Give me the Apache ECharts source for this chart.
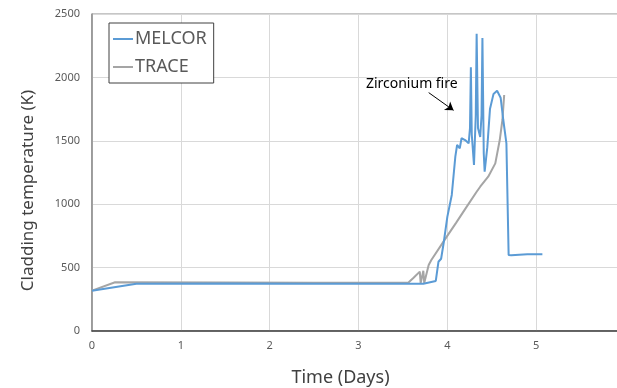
<!DOCTYPE html>
<html><head><meta charset="utf-8">
<script src="https://cdn.jsdelivr.net/npm/echarts@6/dist/echarts.min.js"></script>
<style>html,body{margin:0;padding:0;background:#fff}#c{width:617px;height:388px}</style>
</head><body><div id="c"></div>
<script>
const melcorTime = [0, 0.5, 1.5, 2.5, 3.5, 3.73, 3.87, 3.9, 3.93, 3.96, 4.0, 4.05, 4.09, 4.11, 4.14, 4.16, 4.2, 4.24, 4.255, 4.265, 4.275, 4.3, 4.32, 4.33, 4.345, 4.37, 4.385, 4.395, 4.41, 4.42, 4.45, 4.48, 4.52, 4.56, 4.6, 4.63, 4.665, 4.69, 4.72, 4.9, 5.07];
const melcorTemp = [318, 372, 374, 373, 372, 373, 395, 546, 570, 700, 900, 1073, 1375, 1467, 1441, 1520, 1506, 1480, 1600, 2080, 1550, 1310, 1700, 2345, 1600, 1530, 1700, 2310, 1400, 1256, 1450, 1750, 1870, 1895, 1840, 1664, 1480, 600, 597, 605, 605];
const traceTime = [0, 0.26, 1.5, 2.5, 3.56, 3.62, 3.69, 3.7, 3.73, 3.74, 3.79, 3.82, 3.99, 4.1, 4.2, 4.33, 4.37, 4.46, 4.54, 4.59, 4.62, 4.64];
const traceTemp = [318, 384, 383, 381, 380, 420, 468, 378, 475, 378, 520, 560, 740, 855, 961, 1098, 1138, 1217, 1322, 1506, 1664, 1861];
const seriesNames = ['MELCOR', 'TRACE'];
const annotText = 'Zirconium fire';
const annotTextAt = [3.6, 1945];
const annotArrowFrom = [3.79, 1880];
const annotArrowTo = [4.07, 1740];

const zip = (a, b) => a.map((v, i) => [v, b[i]]);
const chart = echarts.init(document.getElementById('c'), null, {renderer: 'canvas'});
const fam = '"Noto Sans", "Open Sans", sans-serif';
chart.setOption({
  animation: false,
  backgroundColor: '#fff',
  grid: {left: 92, right: -8, top: 14, bottom: 57, outerBoundsMode: 'none', containLabel: false,
    show: true, borderColor: '#8c8c8c', borderWidth: 1},
  legend: {
    orient: 'vertical', left: 109, top: 23,
    data: seriesNames,
    borderColor: '#404040', borderWidth: 1, backgroundColor: '#fff',
    padding: [7, 7, 7, 4], itemGap: 10,
    icon: 'rect', itemWidth: 20, itemHeight: 2,
    textStyle: {fontFamily: fam, fontSize: 18, color: '#595959', padding: [0, 0, 0, -3]}
  },
  xAxis: {
    type: 'value', min: 0, max: 6, interval: 1,
    name: 'Time (Days)', nameLocation: 'middle', nameGap: 38,
    nameTextStyle: {fontFamily: fam, fontSize: 18, color: '#404040', padding: [0, 36, 0, 0]},
    axisLine: {lineStyle: {color: '#404040', width: 1.5}},
    axisTick: {show: false},
    axisLabel: {fontFamily: fam, fontSize: 11, color: '#595959', margin: 9, formatter: v => String(v)},
    splitLine: {lineStyle: {color: '#d9d9d9'}}
  },
  yAxis: {
    type: 'value', min: 0, max: 2500, interval: 500,
    name: 'Cladding temperature (K)', nameLocation: 'middle', nameGap: 55,
    nameTextStyle: {fontFamily: fam, fontSize: 17, color: '#404040', padding: [0, 36, 0, 0]},
    axisLine: {show: true, lineStyle: {color: '#8c8c8c', width: 1.5}},
    axisTick: {show: false},
    axisLabel: {fontFamily: fam, fontSize: 11, color: '#595959', margin: 12, formatter: v => String(v)},
    splitLine: {lineStyle: {color: '#d9d9d9'}}
  },
  series: [
    {
      name: seriesNames[0], type: 'line', data: zip(melcorTime, melcorTemp),
      showSymbol: false, lineStyle: {color: '#5B9BD5', width: 2}, itemStyle: {color: '#5B9BD5'}, z: 3,
      markLine: {
        silent: true, symbol: ['none', 'arrow'], symbolSize: 8,
        lineStyle: {color: '#000', width: 1, type: 'solid'}, label: {show: false},
        data: [[{coord: annotArrowFrom}, {coord: annotArrowTo}]]
      },
      markPoint: {
        silent: true,
        data: [{coord: annotTextAt, symbol: 'circle', symbolSize: 0,
          label: {show: true, position: 'inside', formatter: annotText, fontFamily: fam, fontSize: 14, color: '#000'}}]
      }
    },
    {
      name: seriesNames[1], type: 'line', data: zip(traceTime, traceTemp),
      showSymbol: false, lineStyle: {color: '#A5A5A5', width: 2}, itemStyle: {color: '#A5A5A5'}, z: 2
    }
  ]
});
</script></body></html>
